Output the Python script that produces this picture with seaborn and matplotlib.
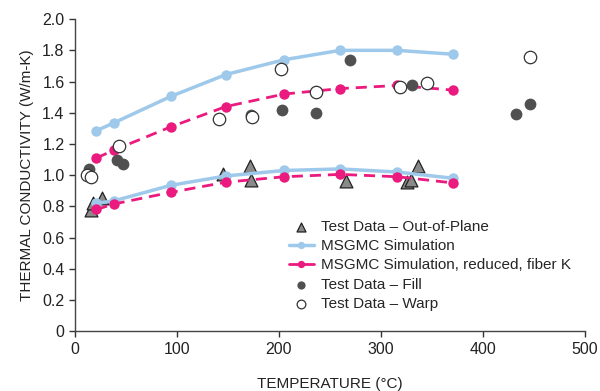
import numpy as np
import pandas as pd
import matplotlib
matplotlib.use("Agg")
import matplotlib.pyplot as plt
import seaborn as sns

sns.set_style("ticks")
plt.rcParams['font.family'] = ['Liberation Sans', 'DejaVu Sans']

# simulation curves (upper = in-plane, lower = out-of-plane)
sim_t = [21, 38, 94, 148, 205, 260, 316, 371]
sim_upper = [1.285, 1.335, 1.505, 1.645, 1.74, 1.80, 1.80, 1.775]
sim_lower = [0.82, 0.835, 0.935, 0.995, 1.03, 1.04, 1.02, 0.98]
red_upper = [1.11, 1.16, 1.31, 1.44, 1.52, 1.555, 1.575, 1.545]
red_lower = [0.78, 0.815, 0.89, 0.955, 0.99, 1.005, 0.99, 0.95]

# test data
oop_t = [16, 18, 26, 145, 172, 173, 266, 325, 329, 336]
oop_k = [0.775, 0.82, 0.855, 1.01, 1.06, 0.97, 0.96, 0.955, 0.97, 1.06]
fill_t = [14, 41, 47, 173, 203, 236, 270, 330, 432, 446]
fill_k = [1.04, 1.10, 1.07, 1.385, 1.42, 1.40, 1.74, 1.58, 1.39, 1.455]
warp_t = [12, 16, 43, 141, 174, 202, 236, 319, 345, 446]
warp_k = [1.0, 0.99, 1.185, 1.36, 1.375, 1.68, 1.53, 1.565, 1.59, 1.755]

blue = "#9fc9ea"
pink = "#ea1a7f"

fig = plt.figure(figsize=(6, 3.91), dpi=100)
ax = fig.add_axes([0.125, 0.153, 0.85, 0.798])

sns.scatterplot(x=oop_t, y=oop_k, ax=ax, marker="^", s=85, color="#8a8a8a",
                edgecolor="#222222", linewidth=0.9, zorder=2,
                label="Test Data \u2013 Out-of-Plane")
sns.lineplot(x=sim_t, y=sim_upper, ax=ax, color=blue, lw=2.5, marker="o",
             markersize=7.5, markeredgewidth=0, zorder=3,
             label="MSGMC Simulation")
sns.lineplot(x=sim_t, y=sim_lower, ax=ax, color=blue, lw=2.5, marker="o",
             markersize=7.5, markeredgewidth=0, zorder=3)
sns.lineplot(x=sim_t, y=red_upper, ax=ax, color=pink, lw=2, marker="o",
             markersize=7.5, markeredgewidth=0, dashes=(4, 2.5), zorder=4,
             label="MSGMC Simulation, reduced, fiber K")
sns.lineplot(x=sim_t, y=red_lower, ax=ax, color=pink, lw=2, marker="o",
             markersize=7.5, markeredgewidth=0, dashes=(4, 2.5), zorder=4)
sns.scatterplot(x=fill_t, y=fill_k, ax=ax, marker="o", s=72, color="#505050",
                linewidth=0, zorder=5, label="Test Data \u2013 Fill")
sns.scatterplot(x=warp_t, y=warp_k, ax=ax, marker="o", s=80, facecolor="white",
                edgecolor="#333333", linewidth=0.9, zorder=5,
                label="Test Data \u2013 Warp")

ax.set_xlim(0, 500)
ax.set_ylim(0, 2.0)
ax.set_xticks(np.arange(0, 501, 100))
yt = np.round(np.arange(0, 2.01, 0.2), 1)
ax.set_yticks(yt)
ax.set_yticklabels(["0"] + [f"{v:.1f}" for v in yt[1:]])
ax.tick_params(direction="out", length=4, width=1, colors="#333333",
               labelsize=11.5, labelcolor="#222222")
for s in ["left", "bottom"]:
    ax.spines[s].set_color("#444444")
    ax.spines[s].set_linewidth(1)
sns.despine(ax=ax)

ax.set_xlabel("TEMPERATURE (\u00b0C)", fontsize=11, labelpad=15, color="#222222")
ax.set_ylabel("THERMAL CONDUCTIVITY (W/m-K)", fontsize=11, labelpad=6, color="#222222")

leg = ax.legend(loc="lower right", bbox_to_anchor=(1.0, 0.02), frameon=False,
                fontsize=11, handlelength=1.6, handletextpad=0.5,
                labelspacing=0.35, markerscale=0.7)
for ln in leg.get_lines():
    ln.set_linestyle("-")

fig.savefig("out.png", dpi=100)
